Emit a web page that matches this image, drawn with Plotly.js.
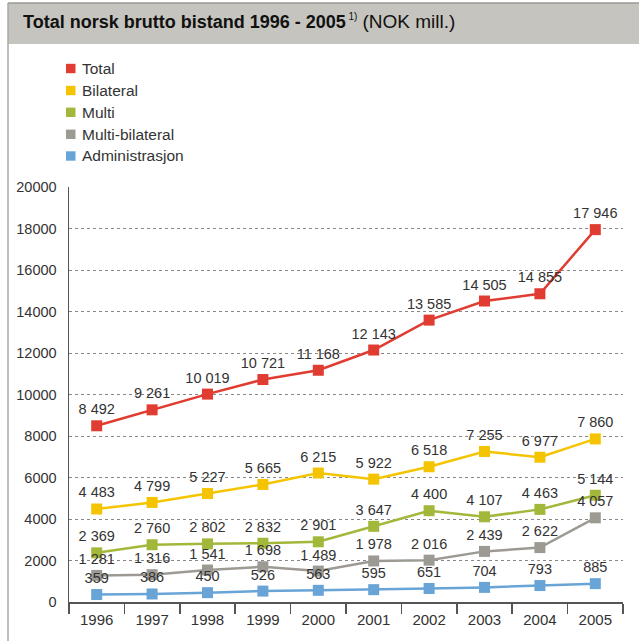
<!DOCTYPE html>
<html>
<head>
<meta charset="utf-8">
<script src="https://cdn.plot.ly/plotly-3.0.1.min.js"></script>
<style>html,body{margin:0;padding:0;background:#fff;}#chart{width:639px;height:641px;}</style>
</head>
<body>
<div id="chart"></div>
<script>
const years = ['1996','1997','1998','1999','2000','2001','2002','2003','2004','2005'];
const total = [8492, 9261, 10019, 10721, 11168, 12143, 13585, 14505, 14855, 17946];
const bilateral = [4483, 4799, 5227, 5665, 6215, 5922, 6518, 7255, 6977, 7860];
const multi = [2369, 2760, 2802, 2832, 2901, 3647, 4400, 4107, 4463, 5144];
const multiBilateral = [1281, 1316, 1541, 1698, 1489, 1978, 2016, 2439, 2622, 4057];
const administrasjon = [359, 386, 450, 526, 563, 595, 651, 704, 793, 885];
const seriesNames = ['Total', 'Bilateral', 'Multi', 'Multi-bilateral', 'Administrasjon'];
const yTicks = [0, 2000, 4000, 6000, 8000, 10000, 12000, 14000, 16000, 18000, 20000];

const colors = ['#e03c31', '#f5c400', '#a2b83a', '#9c9a93', '#68a4d6'];
const seriesData = [total, bilateral, multi, multiBilateral, administrasjon];

function fmt(v) {
  return String(v).replace(/\B(?=(\d{3})+(?!\d))/g, ' ');
}

const W = 639, H = 641, mL = 69, mR = 16, mT = 187, mB = 39;
const pw = W - mL - mR, ph = H - mT - mB;
const px = p => (p - mL) / pw;
const py = p => (H - mB - p) / ph;

const traces = [];
seriesData.forEach((vals, i) => {
  traces.push({
    x: years, y: vals, type: 'scatter', mode: 'lines+markers+text',
    name: seriesNames[i], showlegend: false,
    line: {color: colors[i], width: 2.5},
    marker: {symbol: 'square', size: 11, color: colors[i]},
    text: vals.map(fmt), textposition: 'top center',
    textfont: {family: 'Liberation Sans, Arial, sans-serif', size: 14.5, color: '#333'},
    cliponaxis: false, hoverinfo: 'skip'
  });
});

const shapes = [
  {type: 'rect', xref: 'paper', yref: 'paper', x0: px(8), x1: px(640), y0: py(44), y1: py(3),
    fillcolor: '#c6c4be', line: {width: 0}, layer: 'below'},
  {type: 'line', xref: 'paper', yref: 'paper', x0: px(8), x1: px(640), y0: py(3), y1: py(3),
    line: {color: '#9a9892', width: 1.5}},
  {type: 'line', xref: 'paper', yref: 'paper', x0: px(8), x1: px(8), y0: py(3), y1: py(641),
    line: {color: '#aaa8a2', width: 1.5}}
];
const annotations = [
  {xref: 'paper', yref: 'paper', x: px(21), y: py(22), xanchor: 'left', yanchor: 'middle',
    showarrow: false, align: 'left',
    text: '<b>Total norsk brutto bistand 1996 - 2005</b><sup><span style="font-size:10px"> 1)</span></sup> <span style="font-size:19px">(NOK mill.)</span>',
    font: {family: 'Liberation Sans, Arial, sans-serif', size: 18, color: '#111'}}
];
const legendY = [68.5, 90.5, 112.3, 134.3, 156];
seriesNames.forEach((n, i) => {
  shapes.push({type: 'rect', xref: 'paper', yref: 'paper',
    x0: px(66), x1: px(75.5), y0: py(legendY[i] + 4.7), y1: py(legendY[i] - 4.7),
    fillcolor: colors[i], line: {width: 0}});
  annotations.push({xref: 'paper', yref: 'paper', x: px(80), y: py(legendY[i]),
    xanchor: 'left', yanchor: 'middle', showarrow: false, text: n,
    font: {family: 'Liberation Sans, Arial, sans-serif', size: 15.5, color: '#333'}});
});

const layout = {
  width: W, height: H,
  margin: {l: mL, r: mR, t: mT, b: mB},
  paper_bgcolor: '#fff', plot_bgcolor: '#fff',
  font: {family: 'Liberation Sans, Arial, sans-serif', color: '#333'},
  showlegend: false,
  xaxis: {
    type: 'category', range: [-0.5, 9.5], fixedrange: true,
    showline: true, linecolor: '#555', linewidth: 1.5,
    ticks: 'outside', tickson: 'boundaries', ticklen: 10, tickcolor: '#555', tickwidth: 1.5,
    showgrid: false, ticklabelstandoff: 3, tickfont: {size: 15, color: '#333'}
  },
  yaxis: {
    range: [0, 20000], tickvals: yTicks, ticktext: yTicks.map(String),
    showline: true, linecolor: '#555', linewidth: 1.5,
    showgrid: true, gridcolor: '#888', griddash: 'dot', gridwidth: 1,
    zeroline: false, ticks: '', ticklabelstandoff: 8,
    tickfont: {size: 14.5, color: '#333'}
  },
  shapes: shapes,
  annotations: annotations
};

Plotly.newPlot('chart', traces, layout, {displayModeBar: false, staticPlot: true});
</script>
</body>
</html>
